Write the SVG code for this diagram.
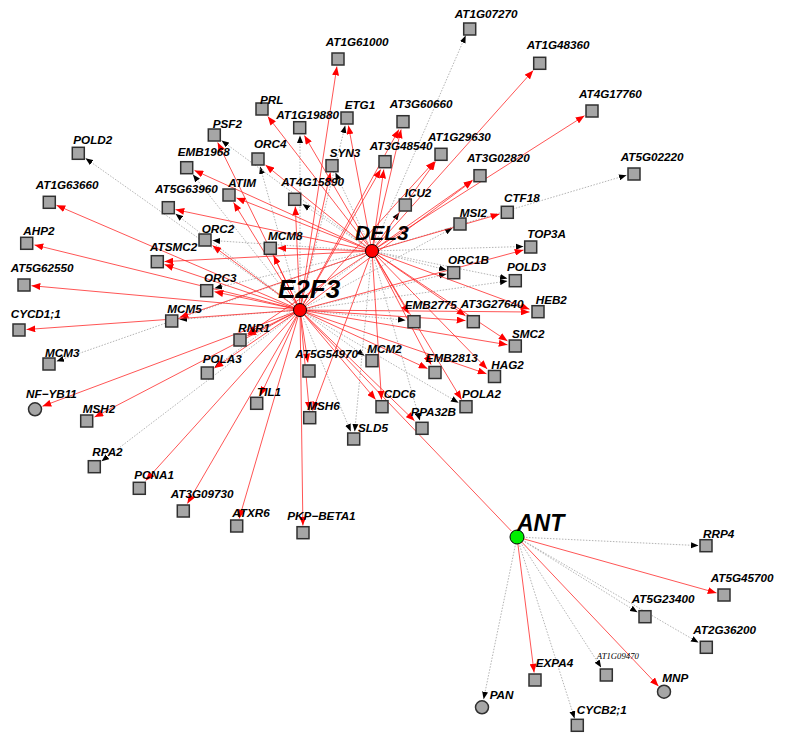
<svg xmlns="http://www.w3.org/2000/svg" width="787" height="747" viewBox="0 0 787 747">
<style>
.r{stroke:#ff2020;stroke-opacity:0.85;stroke-width:0.9;fill:none;marker-end:url(#ar)}
.rn{stroke:#ff2020;stroke-opacity:0.85;stroke-width:0.9;fill:none}
.d{stroke:#b4b4b4;stroke-width:1;stroke-dasharray:1.5 1.5;fill:none;marker-end:url(#ab)}
.n{fill:#a6a6a6;stroke:#303030;stroke-width:1.5}
.l{font-family:"Liberation Sans",Arial,sans-serif;font-weight:bold;font-style:italic;font-size:11.7px;fill:#000}
.ls{font-family:"Liberation Serif","Times New Roman",serif;font-style:italic;font-size:8.7px;fill:#000}
.h{font-family:"Liberation Sans",Arial,sans-serif;font-weight:bold;font-style:italic;fill:#000}
</style>
<defs>
<marker id="ar" viewBox="0 0 10 8" refX="10" refY="4" markerWidth="9" markerHeight="7" markerUnits="userSpaceOnUse" orient="auto"><path d="M0,0L10,4L0,8z" fill="#ff0000"/></marker>
<marker id="ab" viewBox="0 0 10 8" refX="10" refY="4" markerWidth="7.5" markerHeight="6.5" markerUnits="userSpaceOnUse" orient="auto"><path d="M0,0L10,4L0,8z" fill="#000"/></marker>
</defs>
<rect width="787" height="747" fill="#fff"/>
<g id="connectors">
<g id="dotted-E2F3">
<line class="d" x1="300" y1="310" x2="300" y2="135.5"/>
<line class="d" x1="300" y1="310" x2="345.2" y2="125.5"/>
<line class="d" x1="300" y1="310" x2="85.5" y2="158.3"/>
<line class="d" x1="300" y1="310" x2="192.9" y2="174.5"/>
<line class="d" x1="300" y1="310" x2="175.5" y2="213.8"/>
<line class="d" x1="300" y1="310" x2="260.1" y2="166.5"/>
<line class="d" x1="300" y1="310" x2="452.5" y2="228.1"/>
<line class="d" x1="300" y1="310" x2="446.5" y2="273.9"/>
<line class="d" x1="300" y1="310" x2="507.5" y2="281.1"/>
<line class="d" x1="300" y1="310" x2="179.5" y2="319.5"/>
<line class="d" x1="300" y1="310" x2="405.5" y2="320.3"/>
<line class="d" x1="300" y1="310" x2="364.5" y2="355.8"/>
<line class="d" x1="300" y1="310" x2="458.5" y2="402.7"/>
<line class="d" x1="300" y1="310" x2="350.8" y2="431.5"/>
<line class="d" x1="300" y1="310" x2="101.5" y2="461.3"/>
</g>
<g id="dotted-DEL3">
<line class="d" x1="372" y1="251" x2="465.7" y2="35.5"/>
<line class="d" x1="372" y1="251" x2="626.5" y2="175.2"/>
<line class="d" x1="372" y1="251" x2="335.4" y2="172.5"/>
<line class="d" x1="372" y1="251" x2="221.5" y2="140.5"/>
<line class="d" x1="372" y1="251" x2="302.5" y2="204"/>
<line class="d" x1="372" y1="251" x2="399.3" y2="212.5"/>
<line class="d" x1="372" y1="251" x2="212.5" y2="240.5"/>
<line class="d" x1="372" y1="251" x2="523.5" y2="246.5"/>
<line class="d" x1="372" y1="251" x2="446.5" y2="270"/>
<line class="d" x1="372" y1="251" x2="507.5" y2="278.4"/>
<line class="d" x1="372" y1="251" x2="214.5" y2="288.2"/>
<line class="d" x1="372" y1="251" x2="56.5" y2="361.3"/>
<line class="d" x1="372" y1="251" x2="214.5" y2="367.4"/>
<line class="d" x1="372" y1="251" x2="419.9" y2="420.5"/>
<line class="d" x1="372" y1="251" x2="354.7" y2="431.5"/>
</g>
<g id="dotted-ANT">
<line class="d" x1="517" y1="537" x2="698.5" y2="545.6"/>
<line class="d" x1="517" y1="537" x2="637.5" y2="612.3"/>
<line class="d" x1="517" y1="537" x2="698.5" y2="642.6"/>
<line class="d" x1="517" y1="537" x2="601.2" y2="667.5"/>
<line class="d" x1="517" y1="537" x2="574.6" y2="718.5"/>
<line class="d" x1="517" y1="537" x2="483.6" y2="699.2"/>
</g>
<g id="red-E2F3">
<line class="r" x1="300" y1="310" x2="336.9" y2="66.5"/>
<line class="r" x1="300" y1="310" x2="398.9" y2="129.5"/>
<line class="r" x1="300" y1="310" x2="380.7" y2="169.5"/>
<line class="r" x1="300" y1="310" x2="330.4" y2="172.5"/>
<line class="r" x1="300" y1="310" x2="434.3" y2="161.5"/>
<line class="r" x1="300" y1="310" x2="472.5" y2="180.7"/>
<line class="r" x1="300" y1="310" x2="217.7" y2="142.5"/>
<line class="r" x1="300" y1="310" x2="56.5" y2="205.3"/>
<line class="r" x1="300" y1="310" x2="233.6" y2="202.5"/>
<line class="r" x1="300" y1="310" x2="295.3" y2="206.5"/>
<line class="r" x1="300" y1="310" x2="34.5" y2="244.9"/>
<line class="r" x1="300" y1="310" x2="212.5" y2="245.6"/>
<line class="r" x1="300" y1="310" x2="273.6" y2="255.5"/>
<line class="r" x1="300" y1="310" x2="523.5" y2="250"/>
<line class="r" x1="300" y1="310" x2="164.5" y2="264.6"/>
<line class="r" x1="300" y1="310" x2="31.5" y2="285.7"/>
<line class="r" x1="300" y1="310" x2="214.5" y2="291.7"/>
<line class="r" x1="300" y1="310" x2="529.5" y2="312"/>
<line class="r" x1="300" y1="310" x2="26.5" y2="329.5"/>
<line class="r" x1="300" y1="310" x2="465.5" y2="320.6"/>
<line class="r" x1="300" y1="310" x2="507.5" y2="344.8"/>
<line class="r" x1="300" y1="310" x2="247.5" y2="335.5"/>
<line class="r" x1="300" y1="310" x2="307.9" y2="362.5"/>
<line class="r" x1="300" y1="310" x2="214.5" y2="368"/>
<line class="r" x1="300" y1="310" x2="427.5" y2="368.6"/>
<line class="r" x1="300" y1="310" x2="486.5" y2="373.8"/>
<line class="r" x1="300" y1="310" x2="260.5" y2="395.5"/>
<line class="r" x1="300" y1="310" x2="375.6" y2="399.5"/>
<line class="r" x1="300" y1="310" x2="42.5" y2="406.2"/>
<line class="r" x1="300" y1="310" x2="309.3" y2="410.5"/>
<line class="r" x1="300" y1="310" x2="94.5" y2="417.1"/>
<line class="r" x1="300" y1="310" x2="414.5" y2="420.8"/>
<line class="r" x1="300" y1="310" x2="145.8" y2="480.5"/>
<line class="r" x1="300" y1="310" x2="187.4" y2="503.5"/>
<line class="r" x1="300" y1="310" x2="239.2" y2="518.5"/>
<line class="r" x1="300" y1="310" x2="302.9" y2="525.5"/>
<line class="rn" x1="300" y1="310" x2="511.5" y2="531.2"/>
</g>
<g id="red-DEL3">
<line class="r" x1="372" y1="251" x2="533.2" y2="70.5"/>
<line class="r" x1="372" y1="251" x2="584.5" y2="115.7"/>
<line class="r" x1="372" y1="251" x2="267.8" y2="116.5"/>
<line class="r" x1="372" y1="251" x2="304.4" y2="135.5"/>
<line class="r" x1="372" y1="251" x2="348.4" y2="125.5"/>
<line class="r" x1="372" y1="251" x2="401.1" y2="129.5"/>
<line class="r" x1="372" y1="251" x2="383.8" y2="169.5"/>
<line class="r" x1="372" y1="251" x2="435.5" y2="161.5"/>
<line class="r" x1="372" y1="251" x2="472.5" y2="180.2"/>
<line class="r" x1="372" y1="251" x2="499.5" y2="214.1"/>
<line class="r" x1="372" y1="251" x2="194.5" y2="170.4"/>
<line class="r" x1="372" y1="251" x2="265.5" y2="165"/>
<line class="r" x1="372" y1="251" x2="175.5" y2="209.6"/>
<line class="r" x1="372" y1="251" x2="236.5" y2="197.9"/>
<line class="r" x1="372" y1="251" x2="277.5" y2="248.1"/>
<line class="r" x1="372" y1="251" x2="164.5" y2="261.6"/>
<line class="r" x1="372" y1="251" x2="529.5" y2="309.2"/>
<line class="r" x1="372" y1="251" x2="179.5" y2="317.4"/>
<line class="r" x1="372" y1="251" x2="408.6" y2="313.5"/>
<line class="r" x1="372" y1="251" x2="465.5" y2="315.8"/>
<line class="r" x1="372" y1="251" x2="507.5" y2="341"/>
<line class="r" x1="372" y1="251" x2="247.5" y2="333.9"/>
<line class="r" x1="372" y1="251" x2="431.1" y2="364.5"/>
<line class="r" x1="372" y1="251" x2="487.2" y2="369"/>
<line class="r" x1="372" y1="251" x2="381.5" y2="399.5"/>
<line class="r" x1="372" y1="251" x2="461.5" y2="399.5"/>
<line class="r" x1="372" y1="251" x2="312.7" y2="410.5"/>
</g>
<g id="red-ANT">
<line class="r" x1="517" y1="537" x2="716.5" y2="592.9"/>
<line class="r" x1="517" y1="537" x2="534.1" y2="672.5"/>
<line class="r" x1="517" y1="537" x2="658.5" y2="686.2"/>
</g>
</g>
<g id="nodes">
<g id="n-AT1G07270"><rect class="n" x="463.7" y="23" width="12" height="12"/><text class="l" x="454.7" y="18">AT1G07270</text></g>
<g id="n-AT1G61000"><rect class="n" x="332" y="53" width="12" height="12"/><text class="l" x="325.7" y="45.5">AT1G61000</text></g>
<g id="n-AT1G48360"><rect class="n" x="533.7" y="57.3" width="12" height="12"/><text class="l" x="526.7" y="49">AT1G48360</text></g>
<g id="n-AT4G17760"><rect class="n" x="586" y="105" width="12" height="12"/><text class="l" x="579" y="98">AT4G17760</text></g>
<g id="n-PRL"><rect class="n" x="256" y="103" width="12" height="12"/><text class="l" x="260" y="104">PRL</text></g>
<g id="n-AT1G19880"><rect class="n" x="293.7" y="121.7" width="12" height="12"/><text class="l" x="276.3" y="119">AT1G19880</text></g>
<g id="n-ETG1"><rect class="n" x="341" y="112" width="12" height="12"/><text class="l" x="344.7" y="109">ETG1</text></g>
<g id="n-AT3G60660"><rect class="n" x="397" y="115.7" width="12" height="12"/><text class="l" x="389.7" y="108">AT3G60660</text></g>
<g id="n-PSF2"><rect class="n" x="208.3" y="129" width="12" height="12"/><text class="l" x="212.7" y="127.5">PSF2</text></g>
<g id="n-AT1G29630"><rect class="n" x="435" y="148.3" width="12" height="12"/><text class="l" x="428" y="141">AT1G29630</text></g>
<g id="n-POLD2"><rect class="n" x="72.3" y="147.3" width="12" height="12"/><text class="l" x="73.3" y="144">POLD2</text></g>
<g id="n-ORC4"><rect class="n" x="252" y="153" width="12" height="12"/><text class="l" x="254" y="148">ORC4</text></g>
<g id="n-SYN3"><rect class="n" x="326" y="159.7" width="12" height="12"/><text class="l" x="329.7" y="157">SYN3</text></g>
<g id="n-AT3G48540"><rect class="n" x="379" y="155.7" width="12" height="12"/><text class="l" x="369.7" y="150">AT3G48540</text></g>
<g id="n-EMB1968"><rect class="n" x="180.7" y="161.7" width="12" height="12"/><text class="l" x="177.7" y="155.5">EMB1968</text></g>
<g id="n-AT3G02820"><rect class="n" x="474" y="169.7" width="12" height="12"/><text class="l" x="467" y="161.5">AT3G02820</text></g>
<g id="n-AT5G02220"><rect class="n" x="628" y="168" width="12" height="12"/><text class="l" x="620.7" y="160.5">AT5G02220</text></g>
<g id="n-AT1G63660"><rect class="n" x="43.3" y="196.3" width="12" height="12"/><text class="l" x="35.7" y="189">AT1G63660</text></g>
<g id="n-AT5G63960"><rect class="n" x="162.3" y="201.7" width="12" height="12"/><text class="l" x="155" y="193">AT5G63960</text></g>
<g id="n-ATIM"><rect class="n" x="223" y="189" width="12" height="12"/><text class="l" x="228.3" y="187">ATIM</text></g>
<g id="n-AT4G15890"><rect class="n" x="288.7" y="193.3" width="12" height="12"/><text class="l" x="281.3" y="186">AT4G15890</text></g>
<g id="n-ICU2"><rect class="n" x="399.3" y="199" width="12" height="12"/><text class="l" x="404.7" y="196.7">ICU2</text></g>
<g id="n-CTF18"><rect class="n" x="501.3" y="206.3" width="12" height="12"/><text class="l" x="504" y="202.3">CTF18</text></g>
<g id="n-MSI2"><rect class="n" x="454" y="218" width="12" height="12"/><text class="l" x="459.7" y="216.7">MSI2</text></g>
<g id="n-AHP2"><rect class="n" x="20.7" y="237.3" width="12" height="12"/><text class="l" x="23.3" y="235">AHP2</text></g>
<g id="n-ORC2"><rect class="n" x="199" y="234" width="12" height="12"/><text class="l" x="201.7" y="233">ORC2</text></g>
<g id="n-MCM8"><rect class="n" x="264.3" y="242.3" width="12" height="12"/><text class="l" x="268" y="240">MCM8</text></g>
<g id="n-TOP3A"><rect class="n" x="524.7" y="241" width="12" height="12"/><text class="l" x="527.3" y="238">TOP3A</text></g>
<g id="n-ATSMC2"><rect class="n" x="151.3" y="255.7" width="12" height="12"/><text class="l" x="150" y="251">ATSMC2</text></g>
<g id="n-ORC1B"><rect class="n" x="447.7" y="266.7" width="12" height="12"/><text class="l" x="448" y="264">ORC1B</text></g>
<g id="n-POLD3"><rect class="n" x="509.3" y="274.7" width="12" height="12"/><text class="l" x="507" y="270.7">POLD3</text></g>
<g id="n-AT5G62550"><rect class="n" x="18" y="279" width="12" height="12"/><text class="l" x="10.7" y="271.7">AT5G62550</text></g>
<g id="n-ORC3"><rect class="n" x="200.7" y="284.7" width="12" height="12"/><text class="l" x="204" y="282">ORC3</text></g>
<g id="n-HEB2"><rect class="n" x="532" y="305.7" width="12" height="12"/><text class="l" x="535.7" y="304">HEB2</text></g>
<g id="n-MCM5"><rect class="n" x="165.7" y="315" width="12" height="12"/><text class="l" x="167.3" y="312.7">MCM5</text></g>
<g id="n-EMB2775"><rect class="n" x="408" y="315.7" width="12" height="12"/><text class="l" x="404.7" y="309">EMB2775</text></g>
<g id="n-AT3G27640"><rect class="n" x="467.3" y="315.7" width="12" height="12"/><text class="l" x="460.7" y="308">AT3G27640</text></g>
<g id="n-CYCD1_1"><rect class="n" x="13" y="324" width="12" height="12"/><text class="l" x="10.7" y="317.7">CYCD1;1</text></g>
<g id="n-RNR1"><rect class="n" x="234" y="334" width="12" height="12"/><text class="l" x="238.3" y="331.7">RNR1</text></g>
<g id="n-SMC2"><rect class="n" x="509.3" y="340" width="12" height="12"/><text class="l" x="512" y="338.3">SMC2</text></g>
<g id="n-MCM3"><rect class="n" x="43" y="358" width="12" height="12"/><text class="l" x="45" y="356.7">MCM3</text></g>
<g id="n-MCM2"><rect class="n" x="366" y="354.7" width="12" height="12"/><text class="l" x="367.3" y="353">MCM2</text></g>
<g id="n-AT5G54970"><rect class="n" x="303" y="365" width="12" height="12"/><text class="l" x="295.3" y="357.7">AT5G54970</text></g>
<g id="n-POLA3"><rect class="n" x="201.3" y="367" width="12" height="12"/><text class="l" x="202.7" y="363.3">POLA3</text></g>
<g id="n-EMB2813"><rect class="n" x="429" y="366.5" width="12" height="12"/><text class="l" x="425.7" y="362">EMB2813</text></g>
<g id="n-HAG2"><rect class="n" x="488.5" y="370.5" width="12" height="12"/><text class="l" x="491.3" y="369">HAG2</text></g>
<g id="n-TIL1"><rect class="n" x="250.7" y="397.3" width="12" height="12"/><text class="l" x="257" y="395.7">TIL1</text></g>
<g id="n-CDC6"><rect class="n" x="376" y="400.7" width="12" height="12"/><text class="l" x="383.7" y="397.7">CDC6</text></g>
<g id="n-POLA2"><rect class="n" x="460" y="400.7" width="12" height="12"/><text class="l" x="462" y="397.7">POLA2</text></g>
<g id="n-NF-YB11"><circle class="n" cx="35" cy="409.3" r="6.5"/><text class="l" x="26" y="397.7">NF−YB11</text></g>
<g id="n-MSH6"><rect class="n" x="303.7" y="411.7" width="12" height="12"/><text class="l" x="307.3" y="410">MSH6</text></g>
<g id="n-MSH2"><rect class="n" x="80.7" y="415" width="12" height="12"/><text class="l" x="82.7" y="413">MSH2</text></g>
<g id="n-RPA32B"><rect class="n" x="416" y="422.3" width="12" height="12"/><text class="l" x="410.7" y="416">RPA32B</text></g>
<g id="n-SLD5"><rect class="n" x="347.7" y="433" width="12" height="12"/><text class="l" x="358" y="431.7">SLD5</text></g>
<g id="n-RPA2"><rect class="n" x="88.3" y="460.7" width="12" height="12"/><text class="l" x="92.3" y="456">RPA2</text></g>
<g id="n-PCNA1"><rect class="n" x="133.3" y="482.3" width="12" height="12"/><text class="l" x="134.3" y="479">PCNA1</text></g>
<g id="n-AT3G09730"><rect class="n" x="177.3" y="505" width="12" height="12"/><text class="l" x="170.7" y="497.7">AT3G09730</text></g>
<g id="n-ATXR6"><rect class="n" x="230.7" y="520" width="12" height="12"/><text class="l" x="232.3" y="516.7">ATXR6</text></g>
<g id="n-PKP-BETA1"><rect class="n" x="297" y="526.7" width="12" height="12"/><text class="l" x="287.3" y="520">PKP−BETA1</text></g>
<g id="n-RRP4"><rect class="n" x="700" y="539.7" width="12" height="12"/><text class="l" x="703" y="537.7">RRP4</text></g>
<g id="n-AT5G45700"><rect class="n" x="718" y="589" width="12" height="12"/><text class="l" x="710.7" y="581.7">AT5G45700</text></g>
<g id="n-AT5G23400"><rect class="n" x="639" y="610.7" width="12" height="12"/><text class="l" x="631.7" y="602.7">AT5G23400</text></g>
<g id="n-AT2G36200"><rect class="n" x="700.3" y="641.3" width="12" height="12"/><text class="l" x="693.3" y="634">AT2G36200</text></g>
<g id="n-EXPA4"><rect class="n" x="529" y="674" width="12" height="12"/><text class="l" x="535.7" y="667.3">EXPA4</text></g>
<g id="n-AT1G09470"><rect class="n" x="600.3" y="669" width="12" height="12"/><text class="ls" x="596.7" y="659">AT1G09470</text></g>
<g id="n-MNP"><circle class="n" cx="664" cy="691.7" r="6.5"/><text class="l" x="662.3" y="681.7">MNP</text></g>
<g id="n-CYCB2_1"><rect class="n" x="571.3" y="719.3" width="12" height="12"/><text class="l" x="576.7" y="714">CYCB2;1</text></g>
<g id="n-PAN"><circle class="n" cx="482" cy="707.3" r="6.5"/><text class="l" x="489.7" y="699">PAN</text></g>
<g id="n-DEL3"><circle cx="372" cy="251" r="6.5" fill="#ff0000" stroke="#000" stroke-width="1"/><text class="h" x="355" y="240" font-size="21">DEL3</text></g>
<g id="n-E2F3"><circle cx="300" cy="310" r="6.5" fill="#ff0000" stroke="#000" stroke-width="1"/><text class="h" x="278" y="298" font-size="26">E2F3</text></g>
<g id="n-ANT"><circle cx="517" cy="537" r="7" fill="#00ee00" stroke="#000" stroke-width="1"/><text class="h" x="517" y="531" font-size="23">ANT</text></g>
</g>
</svg>
